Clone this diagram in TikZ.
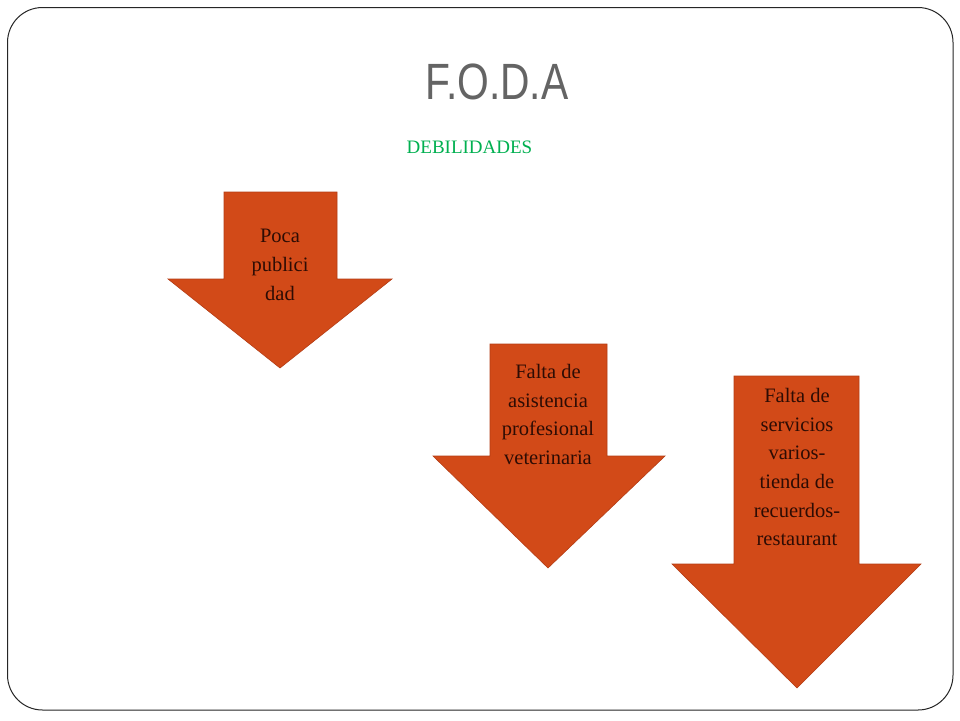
\documentclass[tikz,border=0pt]{standalone}
\usepackage{fontspec}
\setmainfont{Liberation Serif}
\newfontfamily\titlefont{Liberation Sans}
\definecolor{arrowfill}{RGB}{210,74,24}
\definecolor{arrowline}{RGB}{180,60,20}
\definecolor{titlegray}{RGB}{100,100,100}
\definecolor{debgreen}{RGB}{0,176,80}
\definecolor{arrowtext}{RGB}{45,12,4}
\begin{document}
\begin{tikzpicture}[x=1pt,y=-1pt,
  frame/.style={draw=black!85,line width=1pt,rounded corners=35pt},
  downarrow/.style={fill=arrowfill,draw=arrowline,line width=0.6pt,line join=miter},
  arrowlabel/.style={font=\fontsize{20.5}{28.7}\selectfont,text=arrowtext,align=center,inner sep=0pt,anchor=north}]
\useasboundingbox (0,0) rectangle (960,720);
\fill[white] (0,0) rectangle (960,720);
\draw[frame] (7.5,7.5) rectangle (953,710);
% title
\node[font=\titlefont\fontsize{51}{60}\selectfont,text=titlegray,xscale=0.8,anchor=base,inner sep=0pt] (title) at (497,99) {F.O.D.A};
\node[font=\fontsize{19}{22}\selectfont,text=debgreen,anchor=base,inner sep=0pt] (deb) at (469.5,153) {DEBILIDADES};
% arrow 1
\fill[downarrow] (224,192) -- (337,192) -- (337,279) -- (392,279) -- (280,368) -- (168,279) -- (224,279) -- cycle;
\node[arrowlabel] (a1) at (280,229) {Poca\\publici\\dad};
% arrow 2
\fill[downarrow] (490,344) -- (607,344) -- (607,456) -- (665,456) -- (548,568) -- (433,456) -- (490,456) -- cycle;
\node[arrowlabel] (a2) at (548,364) {Falta de\\asistencia\\profesional\\veterinaria};
% arrow 3
\fill[downarrow] (734,376) -- (859,376) -- (859,564) -- (921,564) -- (797,688) -- (672,564) -- (734,564) -- cycle;
\node[arrowlabel] (a3) at (797,388) {Falta de\\servicios\\varios-\\tienda de\\recuerdos-\\restaurant};
\end{tikzpicture}
\end{document}
